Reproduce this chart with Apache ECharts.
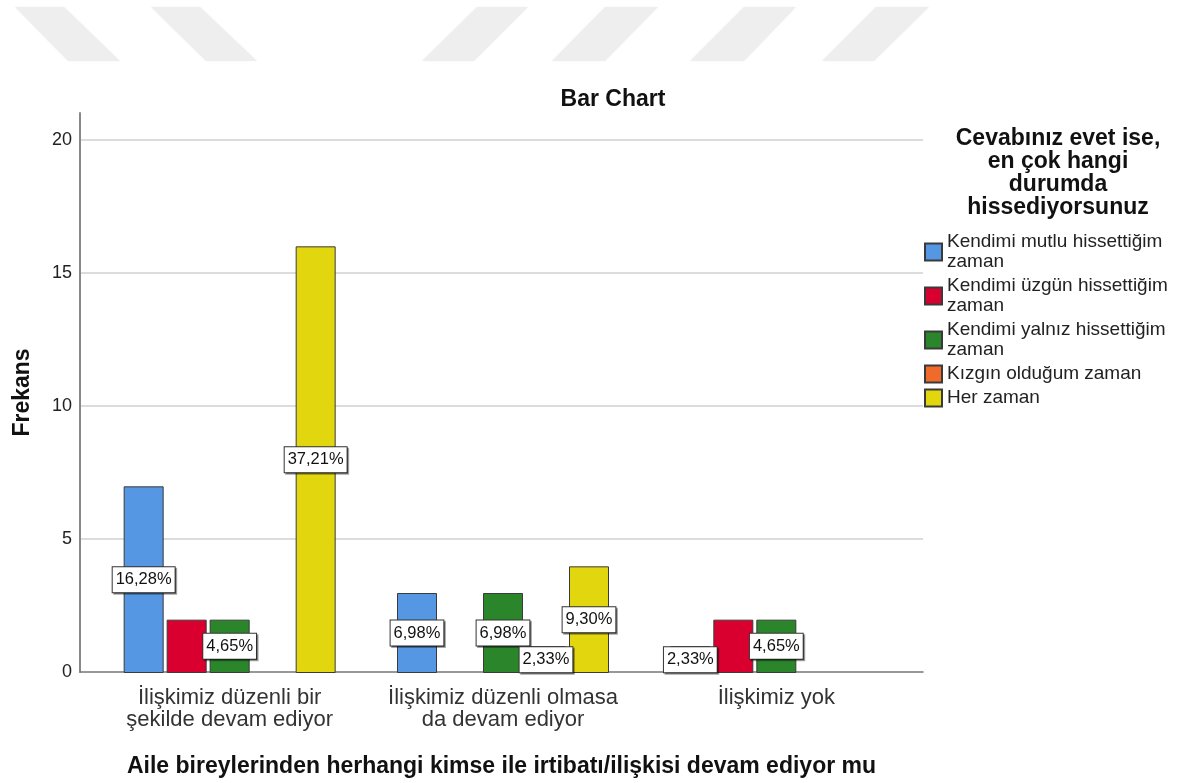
<!DOCTYPE html>
<html>
<head>
<meta charset="utf-8">
<script src="https://cdn.jsdelivr.net/npm/echarts@6/dist/echarts.min.js"></script>
<style>
html,body{margin:0;padding:0;background:#fff;}
#chart{width:1186px;height:783px;}
</style>
</head>
<body>
<div id="chart"></div>
<script>
const categories = [
  "İlişkimiz düzenli bir\nşekilde devam ediyor",
  "İlişkimiz düzenli olmasa\nda devam ediyor",
  "İlişkimiz yok"
];
const seriesNames = [
  "Kendimi mutlu hissettiğim\nzaman",
  "Kendimi üzgün hissettiğim\nzaman",
  "Kendimi yalnız hissettiğim\nzaman",
  "Kızgın olduğum zaman",
  "Her zaman"
];
const mutlu  = [7, 3, 1];
const uzgun  = [2, 0, 2];
const yalniz = [2, 3, 2];
const kizgin = [0, 1, 0];
const herZaman = [16, 4, 0];
// which bars carry a percentage label in the reference
const showLabel = [
  [true, true, true],
  [false, false, false],
  [true, true, true],
  [false, true, false],
  [true, true, false]
];
const yTicks = [0, 5, 10, 15, 20];
const colors = ["#5597e3", "#d9002f", "#2b862b", "#f06a2a", "#e2d60f"];

const values = [mutlu, uzgun, yalniz, kizgin, herZaman];
const total = values.reduce((s, arr) => s + arr.reduce((a, b) => a + b, 0), 0);
const FONT = "'Liberation Sans', Arial, sans-serif";

const chart = echarts.init(document.getElementById('chart'));

const series = values.map((arr, si) => ({
  name: seriesNames[si],
  type: 'bar',
  xAxisIndex: 1,
  yAxisIndex: 1,
  barWidth: 40,
  barGap: '7.5%',
  itemStyle: { color: colors[si], borderColor: '#3a3a3a', borderWidth: 1 },
  emphasis: { disabled: true },
  data: arr.map((v, ci) => ({
    value: v > 0 ? v : '-',
    label: { show: v > 0 && showLabel[si][ci] }
  })),
  label: {
    position: 'inside',
    formatter: p => (p.value / total * 100).toFixed(2).replace('.', ',') + '%',
    fontFamily: FONT,
    fontSize: 16.5,
    color: '#111',
    backgroundColor: '#fff',
    borderColor: '#333',
    borderWidth: 1,
    padding: [4, 3, 3, 3],
    lineHeight: 18,
    shadowColor: 'rgba(0,0,0,0.35)',
    shadowOffsetX: 1.5,
    shadowOffsetY: 1.5,
    shadowBlur: 0
  }
}));

// background watermark stripes
const stripes = [
  [[15,7],[64,7],[120,61],[68,61]],
  [[151,7],[200,7],[257,61],[206,61]],
  [[477,7],[528,7],[474,61],[422,61]],
  [[605,7],[658,7],[605,61],[552,61]],
  [[744,7],[796,7],[744,61],[690,61]],
  [[876,7],[929,7],[874,61],[822,61]]
];

const option = {
  animation: false,
  backgroundColor: '#fff',
  graphic: stripes.map(pts => ({
    type: 'polygon', z: -10, silent: true,
    shape: { points: pts },
    style: { fill: '#eeeeee', shadowColor: 'rgba(0,0,0,0.04)', shadowBlur: 3 }
  })),
  title: [
    {
      text: 'Bar Chart', left: 608, top: 83, textAlign: 'center',
      textStyle: { fontFamily: FONT, fontSize: 23, fontWeight: 'bold', color: '#111' }
    },
    {
      text: 'Cevabınız evet ise,\nen çok hangi\ndurumda\nhissediyorsunuz',
      left: 1053, top: 122, textAlign: 'center',
      textStyle: { fontFamily: FONT, fontSize: 23, fontWeight: 'bold', color: '#111', lineHeight: 23 }
    }
  ],
  legend: {
    orient: 'vertical',
    left: 924,
    top: 232,
    padding: 0,
    itemWidth: 17,
    itemHeight: 17,
    itemGap: 4,
    icon: 'rect',
    selectedMode: false,
    textStyle: { fontFamily: FONT, fontSize: 19, color: '#222', lineHeight: 20 },
    data: seriesNames
  },
  grid: [
    { left: 80, right: 263, top: 113, bottom: 110 },
    { left: 93, right: 273, top: 113, bottom: 110 }
  ],
  xAxis: [
    {
      gridIndex: 0, type: 'value', min: 0, max: 1,
      axisLine: { show: true, lineStyle: { color: '#777', width: 1.5 } },
      axisTick: { show: false }, axisLabel: { show: false }, splitLine: { show: false },
      name: 'Aile bireylerinden herhangi kimse ile irtibatı/ilişkisi devam ediyor mu',
      nameLocation: 'middle', nameGap: 83,
      nameTextStyle: { fontFamily: FONT, fontSize: 23, fontWeight: 'bold', color: '#111' }
    },
    {
      gridIndex: 1, type: 'category', data: categories,
      axisLine: { show: false }, axisTick: { show: false },
      axisLabel: { fontFamily: FONT, fontSize: 22, lineHeight: 22, color: '#333', margin: 14, interval: 0 }
    }
  ],
  yAxis: [
    {
      gridIndex: 0, type: 'value', min: 0, max: 21, interval: 5,
      axisLine: { show: true, lineStyle: { color: '#888', width: 2 } },
      axisTick: { show: false },
      axisLabel: {
        fontFamily: FONT, fontSize: 18, color: '#222', margin: 8, showMaxLabel: false,
        formatter: v => (yTicks.indexOf(v) >= 0 ? String(v) : '')
      },
      splitLine: { show: true, showMaxLine: false, showMinLine: false, lineStyle: { color: '#d0d0d0', width: 1.5 } },
      name: 'Frekans', nameLocation: 'middle', nameGap: 46,
      nameTextStyle: { fontFamily: FONT, fontSize: 23, fontWeight: 'bold', color: '#111' }
    },
    {
      gridIndex: 1, type: 'value', min: 0, max: 21, interval: 5, show: false
    }
  ],
  series: series
};
chart.setOption(option);
</script>
</body>
</html>
